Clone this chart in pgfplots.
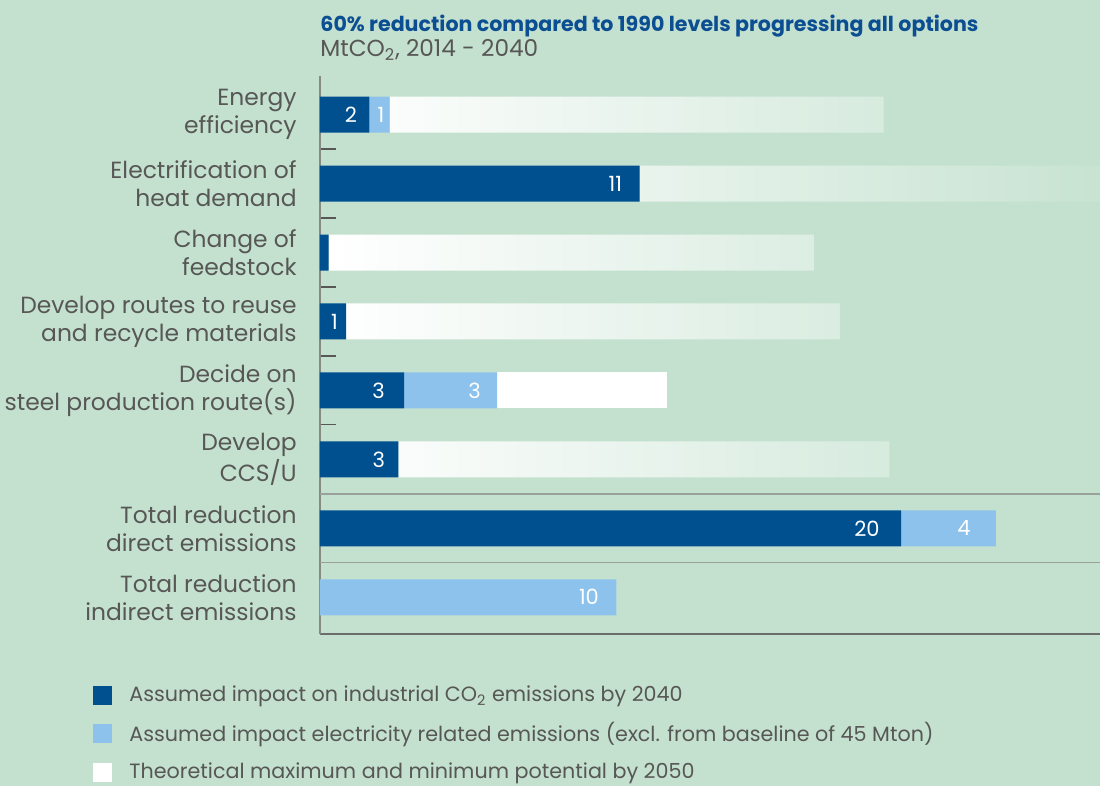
\documentclass[border=0pt]{standalone}
\usepackage{pgfplots}
\pgfplotsset{compat=1.18}
\usepackage{pgfplotstable}
\usepackage{fontspec}
\setmainfont{Poppins}
\definecolor{bg}{HTML}{C4E1CF}
\definecolor{darkblue}{HTML}{00508F}
\definecolor{lightblue}{HTML}{8CC2EB}
\definecolor{textgray}{HTML}{575756}
\definecolor{titleblue}{HTML}{0C4E92}
\definecolor{gridgray}{HTML}{9AA09A}
\definecolor{axisgray}{HTML}{858A85}

% y: 7 = top category ... 0 = bottom category; pad = gap (pt) between label and segment end
\pgfplotstableread{
x y lab pad
1.7 7 2 6
11.0 6 11 8.5
0.3 5 {} 0
0.9 4 1 4
2.9 3 3 9.5
2.7 2 3 6.5
20.0 1 20 10.5
0 0 {} 0
}\darktab
\pgfplotstableread{
x y lab pad
0.7 7 1 2.5
0 6 {} 0
0 5 {} 0
0 4 {} 0
3.2 3 3 8
0 2 {} 0
3.27 1 4 12.5
10.2 0 10 8.5
}\lighttab
\pgfplotstableread{
x y
17.0 7
17.6 6
16.7 5
17.0 4
0.001 3
16.9 2
0.001 1
0.001 0
}\gradtab
\pgfplotstableread{
x y
0 7
0 6
0 5
0 4
5.85 3
0 2
0 1
0 0
}\whitetab

\begin{document}
\begin{tikzpicture}
\useasboundingbox (0,0) rectangle (550pt,393pt);
\fill[bg] (0,0) rectangle (550pt,393pt);
\node[anchor=base west, inner sep=0pt, text=titleblue, font=\fontsize{10.3}{12}\selectfont\bfseries] at (160pt,377.25pt) {60\% reduction compared to 1990 levels progressing all options};
\node[anchor=base west, inner sep=0pt, text=textgray, font=\fontsize{11.6}{13}\selectfont] at (160pt,364.5pt) {MtCO\textsubscript{2}, 2014 - 2040};
\begin{axis}[
  at={(160pt,75.75pt)}, anchor=south west,
  scale only axis, width=390pt, height=279.25pt,
  xmin=0, xmax=26.85, ymin=-0.54, ymax=7.56,
  xbar stacked, bar width=18pt,
  axis lines*=left,
  x axis line style={draw=axisgray!80!black, line width=1pt},
  y axis line style={draw=axisgray, line width=1pt},
  xtick=\empty,
  ytick={0,...,7},
  yticklabels={{Total reduction\\indirect emissions},{Total reduction\\direct emissions},{Develop\\CCS/U},{Decide on\\steel production route(s)},{Develop routes to reuse\\and recycle materials},{Change of\\feedstock},{Electrification of\\heat demand},{Energy\\efficiency}},
  yticklabel style={align=right, text=textgray, inner sep=0pt, xshift=-11.5pt, font=\fontsize{11.7}{14}\selectfont},
  major tick length=0pt, minor tick length=8pt, tick align=inside,
  minor ytick={2.5,3.5,4.5,5.5,6.5},
  tick style={draw=textgray, line width=0.6pt},
  extra y ticks={0.5,1.5}, extra y tick labels={},
  extra y tick style={grid=major, major tick length=0pt},
  major grid style={draw=gridgray, line width=0.7pt},
  legend style={at={(-0.2987,-0.0835)}, anchor=north west, draw=none, fill=none,
    row sep=9pt, column sep=8.5pt, font=\fontsize{10.34}{12}\selectfont, text=textgray,
    nodes={inner sep=0pt}},
  legend cell align=left,
  legend image code/.code={\pgfpathrectanglecorners{\pgfpoint{0pt}{-4.75pt}}{\pgfpoint{9.5pt}{4.75pt}}\pgfusepath{fill}},
  every node near coord/.append style={anchor=east, xshift={(\barlen*7.2626-\pad)*1pt}, inner sep=0pt, text=white, font=\fontsize{10.5}{12}\selectfont},
]
\addplot[fill=darkblue, draw=none, nodes near coords, point meta=explicit symbolic,
  visualization depends on={\thisrow{x}\as\barlen},
  visualization depends on={\thisrow{pad}\as\pad}] table[x=x, y=y, meta=lab] {\darktab};
\addlegendentry{Assumed impact on industrial CO\textsubscript{2} emissions by 2040}
\addplot[fill=lightblue, draw=none, nodes near coords, point meta=explicit symbolic,
  visualization depends on={\thisrow{x}\as\barlen},
  visualization depends on={\thisrow{pad}\as\pad}] table[x=x, y=y, meta=lab] {\lighttab};
\addlegendentry{Assumed impact electricity related emissions (excl. from baseline of 45 Mton)}
\addplot[draw=none, left color=white, right color=bg,
  legend image code/.code={\pgfpathrectanglecorners{\pgfpoint{0pt}{-4.75pt}}{\pgfpoint{9.5pt}{4.75pt}}\pgfsetfillcolor{white}\pgfusepath{fill}}] table[x=x, y=y] {\gradtab};
\addlegendentry{Theoretical maximum and minimum potential by 2050}
\addplot[fill=white, draw=none] table[x=x, y=y] {\whitetab};
\end{axis}
\end{tikzpicture}
\end{document}
